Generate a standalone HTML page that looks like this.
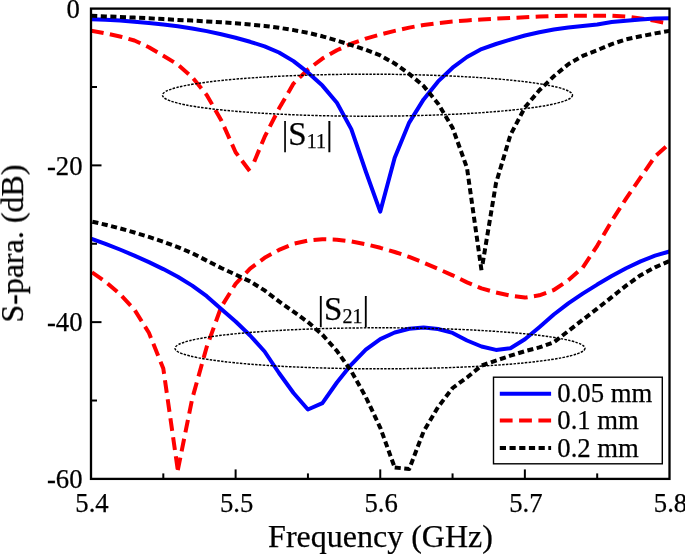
<!DOCTYPE html>
<html><head><meta charset="utf-8"><title>S-parameters</title>
<style>
html,body{margin:0;padding:0;background:#fff;}
body{width:685px;height:554px;overflow:hidden;}
svg{display:block;}
text{font-family:"Liberation Serif",serif;fill:#000;stroke:#000;stroke-width:0.25px;}
.t{filter:grayscale(1);}
</style></head><body>
<svg width="685" height="554" viewBox="0 0 685 554">
<rect x="0" y="0" width="685" height="554" fill="#fff"/>
<clipPath id="c"><rect x="91.0" y="8.6" width="578.5" height="470.29999999999995"/></clipPath>
<g clip-path="url(#c)">
<path d="M91.0,30.6 L105.5,33.3 L119.9,36.5 L134.4,40.5 L148.9,47.2 L163.3,55.7 L177.8,64.5 L192.2,77.2 L206.7,94.9 L221.2,120.2 L235.6,152.2 L250.1,171.5" fill="none" stroke="#ff0000" stroke-width="4.0" stroke-linejoin="round" stroke-dasharray="12.8 6.4" stroke-dashoffset="0"/>
<path d="M254.2,161.7 L264.6,136.9 L279.0,108.6 L293.5,83.6 L307.9,69.5 L322.4,58.6 L336.9,50.2 L351.3,43.7 L365.8,38.6 L380.3,34.5 L394.7,30.9 L409.2,27.6 L423.6,25.0 L438.1,23.1 L452.6,21.6 L467.0,20.4 L481.5,19.4 L496.0,18.6 L510.4,17.9 L524.9,17.3 L539.3,16.6 L553.8,16.0 L568.3,15.8 L582.7,15.8 L597.2,15.8 L611.7,15.8 L626.1,16.6 L640.6,18.4 L655.0,20.9 L669.5,23.6" fill="none" stroke="#ff0000" stroke-width="4.0" stroke-linejoin="round" stroke-dasharray="12.8 6.4" stroke-dashoffset="0"/>
<path d="M91.0,271.6 L105.5,281.7 L119.9,294.1 L134.4,309.5 L148.9,332.8 L163.3,368.5 L177.8,470.1" fill="none" stroke="#ff0000" stroke-width="4.0" stroke-linejoin="round" stroke-dasharray="12.8 6.4" stroke-dashoffset="-1.2"/>
<path d="M177.8,470.1 L192.2,398.8 L206.7,347.0 L221.2,307.0 L235.6,283.9 L250.1,268.6 L264.6,257.8 L279.0,249.9 L293.5,243.8 L307.9,240.6 L322.4,239.2 L336.9,239.7 L351.3,241.5 L365.8,244.2 L380.3,247.8 L394.7,252.0 L409.2,256.9 L423.6,262.7 L438.1,268.9 L452.6,275.3 L467.0,282.4 L481.5,288.4 L496.0,292.5 L510.4,295.7 L524.9,297.6 L539.3,295.3 L553.8,290.0 L568.3,280.2 L582.7,267.6 L597.2,245.8 L611.7,221.0 L626.1,198.6 L640.6,177.4 L655.0,156.5 L669.5,143.5" fill="none" stroke="#ff0000" stroke-width="4.0" stroke-linejoin="round" stroke-dasharray="12.8 6.4" stroke-dashoffset="0"/>
<path d="M91.0,19.3 L105.5,19.7 L119.9,20.5 L134.4,21.7 L148.9,23.1 L163.3,24.6 L177.8,26.3 L192.2,28.5 L206.7,31.1 L221.2,34.3 L235.6,37.8 L250.1,41.8 L264.6,46.3 L279.0,52.5 L293.5,61.1 L307.9,72.4 L322.4,85.6 L336.9,102.8 L351.3,129.1 L365.8,171.5 L380.2,211.7 L394.7,157.7 L409.2,122.6 L423.6,99.4 L438.1,81.4 L452.6,67.7 L467.0,57.0 L481.5,49.1 L496.0,44.0 L510.4,39.6 L524.9,35.5 L539.3,32.2 L553.8,29.5 L568.3,27.6 L582.7,26.1 L597.2,24.4 L611.7,22.1 L626.1,20.7 L640.6,19.5 L655.0,18.6 L669.5,18.3" fill="none" stroke="#0000ff" stroke-width="4.0" stroke-linejoin="round"/>
<path d="M91.0,238.6 L105.5,243.8 L119.9,249.5 L134.4,255.6 L148.9,262.1 L163.3,269.1 L177.8,276.8 L192.2,285.6 L206.7,296.2 L221.2,309.1 L235.6,321.5 L250.1,335.5 L264.6,351.5 L279.0,373.0 L293.5,393.0 L307.9,409.5 L322.4,403.2 L336.9,382.5 L351.3,364.6 L365.8,349.7 L380.3,339.1 L394.7,332.5 L409.2,328.8 L423.6,327.5 L438.1,329.0 L452.6,332.9 L467.0,340.5 L481.5,346.5 L496.0,349.9 L510.4,348.2 L524.9,339.3 L539.3,327.2 L553.8,314.5 L568.3,303.4 L582.7,293.6 L597.2,284.6 L611.7,276.1 L626.1,268.3 L640.6,261.4 L655.0,255.7 L669.5,251.5" fill="none" stroke="#0000ff" stroke-width="4.0" stroke-linejoin="round"/>
<path d="M91.0,15.8 L105.5,16.4 L119.9,17.0 L134.4,17.6 L148.9,18.3 L163.3,19.1 L177.8,19.9 L192.2,20.6 L206.7,21.4 L221.2,22.3 L235.6,23.3 L250.1,24.5 L264.6,25.9 L279.0,27.8 L293.5,30.1 L307.9,32.8 L322.4,36.3 L336.9,40.6 L351.3,45.1 L365.8,49.8 L380.3,55.4 L394.7,63.5 L409.2,73.9 L423.6,86.0 L438.1,103.7 L452.6,127.9 L467.0,167.9 L481.5,270.3" fill="none" stroke="#000000" stroke-width="4.0" stroke-linejoin="round" stroke-dasharray="6.1 3.5" stroke-dashoffset="-0.16"/>
<path d="M482.6,263.8 L496.0,183.2 L510.4,135.0 L524.9,107.4 L539.3,90.3 L553.8,76.3 L568.3,64.2 L582.7,55.9 L597.2,50.2 L611.7,44.1 L626.1,39.4 L640.6,36.3 L655.0,33.4 L669.5,30.9" fill="none" stroke="#000000" stroke-width="4.0" stroke-linejoin="round" stroke-dasharray="6.1 3.5" stroke-dashoffset="0"/>
<path d="M91.0,221.4 L105.5,224.7 L119.9,228.4 L134.4,232.5 L148.9,236.9 L163.3,241.7 L177.8,247.1 L192.2,253.2 L206.7,260.6 L221.2,268.0 L235.6,274.6 L250.1,281.4 L264.6,290.4 L279.0,301.4 L293.5,311.6 L307.9,322.1 L322.4,334.7 L336.9,350.9 L351.3,371.2 L365.8,397.0 L380.3,427.8 L394.7,467.5" fill="none" stroke="#000000" stroke-width="4.0" stroke-linejoin="round" stroke-dasharray="6.1 3.5" stroke-dashoffset="-1.4"/>
<path d="M394.7,467.5 L409.2,469.0 L423.6,431.5 L438.1,407.0 L452.6,388.0 L467.0,377.5 L481.5,365.6 L496.0,360.6 L510.4,355.7 L524.9,351.2 L539.3,347.4 L553.8,342.3 L568.3,331.0 L582.7,319.8 L597.2,308.7 L611.7,297.1 L626.1,285.6 L640.6,275.2 L655.0,267.3 L669.5,261.0" fill="none" stroke="#000000" stroke-width="4.0" stroke-linejoin="round" stroke-dasharray="6.1 3.5" stroke-dashoffset="0"/>
</g>
<ellipse cx="367.5" cy="95.2" rx="205" ry="21" fill="none" stroke="#000" stroke-width="1.45" stroke-dasharray="2.5 1.3"/>
<ellipse cx="380" cy="348.3" rx="205" ry="20.5" fill="none" stroke="#000" stroke-width="1.45" stroke-dasharray="2.5 1.3"/>
<rect x="91.0" y="8.6" width="578.5" height="470.29999999999995" fill="none" stroke="#000" stroke-width="2.3"/>
<line x1="163.31" y1="478.9" x2="163.31" y2="473.4" stroke="#000" stroke-width="2.0"/>
<line x1="235.62" y1="478.9" x2="235.62" y2="469.4" stroke="#000" stroke-width="2.0"/>
<line x1="307.94" y1="478.9" x2="307.94" y2="473.4" stroke="#000" stroke-width="2.0"/>
<line x1="380.25" y1="478.9" x2="380.25" y2="469.4" stroke="#000" stroke-width="2.0"/>
<line x1="452.56" y1="478.9" x2="452.56" y2="473.4" stroke="#000" stroke-width="2.0"/>
<line x1="524.87" y1="478.9" x2="524.87" y2="469.4" stroke="#000" stroke-width="2.0"/>
<line x1="597.19" y1="478.9" x2="597.19" y2="473.4" stroke="#000" stroke-width="2.0"/>
<line x1="91.0" y1="86.98" x2="97.0" y2="86.98" stroke="#000" stroke-width="2.0"/>
<line x1="91.0" y1="165.37" x2="101.5" y2="165.37" stroke="#000" stroke-width="2.0"/>
<line x1="91.0" y1="243.75" x2="97.0" y2="243.75" stroke="#000" stroke-width="2.0"/>
<line x1="91.0" y1="322.13" x2="101.5" y2="322.13" stroke="#000" stroke-width="2.0"/>
<line x1="91.0" y1="400.52" x2="97.0" y2="400.52" stroke="#000" stroke-width="2.0"/>

<rect x="493.5" y="377.2" width="168.8" height="86.6" fill="#fff" stroke="#000" stroke-width="1.4"/>
<line x1="499.8" y1="393.8" x2="551.1" y2="393.8" stroke="#0000ff" stroke-width="4.0"/>
<line x1="499.8" y1="420.4" x2="551.1" y2="420.4" stroke="#ff0000" stroke-width="4.0" stroke-dasharray="12.8 6.5"/>
<line x1="499.8" y1="448" x2="551.1" y2="448" stroke="#000" stroke-width="4.0" stroke-dasharray="6.2 3.5"/>
<g class="t">
<text x="92.0" y="512" font-size="26.7" text-anchor="middle">5.4</text>
<text x="236.6" y="512" font-size="26.7" text-anchor="middle">5.5</text>
<text x="381.2" y="512" font-size="26.7" text-anchor="middle">5.6</text>
<text x="525.9" y="512" font-size="26.7" text-anchor="middle">5.7</text>
<text x="670.5" y="512" font-size="26.7" text-anchor="middle">5.8</text>
<text x="79.8" y="17.9" font-size="26.7" text-anchor="end">0</text>
<text x="82.5" y="174.7" font-size="26.7" text-anchor="end">-20</text>
<text x="82.5" y="331.4" font-size="26.7" text-anchor="end">-40</text>
<text x="82.5" y="488.2" font-size="26.7" text-anchor="end">-60</text>

<text x="380.5" y="546.5" font-size="32" text-anchor="middle">Frequency (GHz)</text>
<text transform="translate(23,243.6) rotate(-90)" font-size="32" text-anchor="middle">S-para. (dB)</text>
<text x="281.7" y="145" font-size="33">|S<tspan font-size="20" dy="3">11</tspan><tspan font-size="33" dy="-3">|</tspan></text>
<text x="317.5" y="319.8" font-size="33">|S<tspan font-size="20" dy="3">21</tspan><tspan font-size="33" dy="-3">|</tspan></text>
<text x="557.3" y="401.7" font-size="26.7">0.05 mm</text>
<text x="557.3" y="428.6" font-size="26.7">0.1 mm</text>
<text x="557.3" y="456.7" font-size="26.7">0.2 mm</text>
</g>
</svg>
</body></html>
